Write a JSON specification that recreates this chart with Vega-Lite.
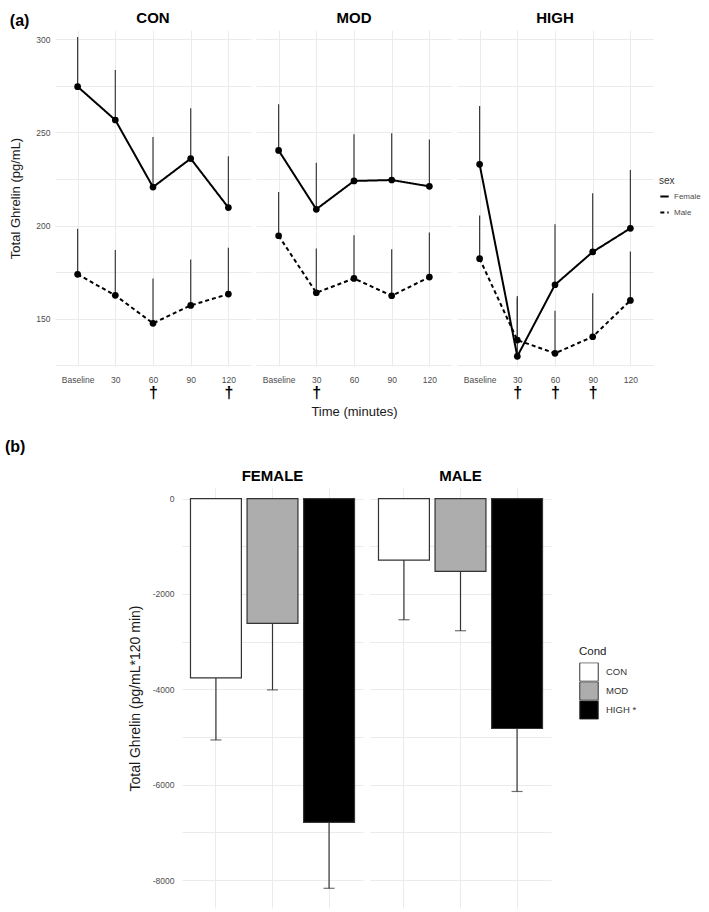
{
  "$schema": "https://vega.github.io/schema/vega-lite/v6.json",
  "background": "white",
  "padding": {"left": 5, "right": 5, "top": 11, "bottom": 5},
  "config": {
    "font": "Liberation Sans",
    "view": {"stroke": null},
    "axis": {
      "labelColor": "#4d4d4d",
      "labelFontSize": 8.5,
      "gridColor": "#ebebeb",
      "gridWidth": 1,
      "domain": false,
      "ticks": false,
      "titleFontWeight": "normal",
      "titleFontSize": 13,
      "titleColor": "#1a1a1a"
    },
    "title": {"fontSize": 15, "fontWeight": "bold", "color": "#000000", "offset": 4}
  },
  "datasets": {
    "timecourse": [
      {"cond": "CON", "sex": "Female", "time": "Baseline", "mean": 274.6, "upper": 301.2},
      {"cond": "CON", "sex": "Female", "time": "30", "mean": 256.7, "upper": 283.5},
      {"cond": "CON", "sex": "Female", "time": "60", "mean": 220.7, "upper": 247.6},
      {"cond": "CON", "sex": "Female", "time": "90", "mean": 236.0, "upper": 263.0},
      {"cond": "CON", "sex": "Female", "time": "120", "mean": 209.7, "upper": 237.2},
      {"cond": "CON", "sex": "Male", "time": "Baseline", "mean": 173.9, "upper": 198.4},
      {"cond": "CON", "sex": "Male", "time": "30", "mean": 162.6, "upper": 186.9},
      {"cond": "CON", "sex": "Male", "time": "60", "mean": 147.6, "upper": 171.7},
      {"cond": "CON", "sex": "Male", "time": "90", "mean": 157.2, "upper": 181.9},
      {"cond": "CON", "sex": "Male", "time": "120", "mean": 163.3, "upper": 188.2},
      {"cond": "MOD", "sex": "Female", "time": "Baseline", "mean": 240.4, "upper": 265.1},
      {"cond": "MOD", "sex": "Female", "time": "30", "mean": 208.8, "upper": 233.8},
      {"cond": "MOD", "sex": "Female", "time": "60", "mean": 224.0, "upper": 249.0},
      {"cond": "MOD", "sex": "Female", "time": "90", "mean": 224.5, "upper": 249.6},
      {"cond": "MOD", "sex": "Female", "time": "120", "mean": 221.1, "upper": 246.2},
      {"cond": "MOD", "sex": "Male", "time": "Baseline", "mean": 194.6, "upper": 218.1},
      {"cond": "MOD", "sex": "Male", "time": "30", "mean": 164.0, "upper": 187.7},
      {"cond": "MOD", "sex": "Male", "time": "60", "mean": 171.7, "upper": 194.8},
      {"cond": "MOD", "sex": "Male", "time": "90", "mean": 162.4, "upper": 187.3},
      {"cond": "MOD", "sex": "Male", "time": "120", "mean": 172.4, "upper": 196.3},
      {"cond": "HIGH", "sex": "Female", "time": "Baseline", "mean": 232.9, "upper": 264.2},
      {"cond": "HIGH", "sex": "Female", "time": "30", "mean": 129.9, "upper": 162.2},
      {"cond": "HIGH", "sex": "Female", "time": "60", "mean": 168.3, "upper": 200.7},
      {"cond": "HIGH", "sex": "Female", "time": "90", "mean": 185.9, "upper": 217.4},
      {"cond": "HIGH", "sex": "Female", "time": "120", "mean": 198.6, "upper": 229.9},
      {"cond": "HIGH", "sex": "Male", "time": "Baseline", "mean": 182.3, "upper": 205.5},
      {"cond": "HIGH", "sex": "Male", "time": "30", "mean": 138.6, "upper": 161.0},
      {"cond": "HIGH", "sex": "Male", "time": "60", "mean": 131.5, "upper": 154.3},
      {"cond": "HIGH", "sex": "Male", "time": "90", "mean": 140.4, "upper": 163.7},
      {"cond": "HIGH", "sex": "Male", "time": "120", "mean": 159.9, "upper": 186.1}
    ],
    "auc": [
      {"sex": "FEMALE", "cond": "CON", "auc": -3760, "lower": -5060},
      {"sex": "FEMALE", "cond": "MOD", "auc": -2615, "lower": -4010},
      {"sex": "FEMALE", "cond": "HIGH", "auc": -6790, "lower": -8170},
      {"sex": "MALE", "cond": "CON", "auc": -1290, "lower": -2540},
      {"sex": "MALE", "cond": "MOD", "auc": -1525, "lower": -2770},
      {"sex": "MALE", "cond": "HIGH", "auc": -4820, "lower": -6140}
    ]
  },
  "spacing": 21,
  "vconcat": [
    {
      "title": {"text": "(a)", "anchor": "start", "fontSize": 16, "dy": 22},
      "spacing": 5,
      "hconcat": [
        {
          "width": 196, "height": 336,
          "title": "CON",
          "data": {"name": "timecourse"},
          "transform": [{"filter": "datum.cond === 'CON'"}],
          "layer": [
            {
              "mark": {"type": "rule", "color": "#3a3a3a", "strokeWidth": 1.2},
              "encoding": {
                "x": {"field": "time", "type": "ordinal", "scale": {"type": "point", "domain": ["Baseline", "30", "60", "90", "120"], "padding": 0.6},
                      "axis": {"orient": "bottom", "title": null, "grid": false, "labelAngle": 0, "labelPadding": 18, "labelFontSize": 16, "labelFontWeight": "bold", "labelColor": "#000000",
                               "labelExpr": "datum.value === '60' || datum.value === '120' ? '†' : ''"}},
                "y": {"field": "mean", "type": "quantitative", "scale": {"domain": [124.7, 305], "nice": false, "zero": false},
                      "axis": {"title": "Total Ghrelin (pg/mL)", "values": [125, 150, 175, 200, 225, 250, 275, 300], "labelPadding": 5, "titlePadding": 13,
                               "labelExpr": "datum.value % 50 === 0 ? datum.label : ''"}},
                "y2": {"field": "upper"},
                "detail": {"field": "sex"}
              }
            },
            {
              "mark": {"type": "line", "color": "#000000", "strokeWidth": 2},
              "encoding": {
                "x": {"field": "time", "type": "ordinal", "axis": {"orient": "bottom", "title": null, "labelAngle": 0, "labelPadding": 9, "grid": true}},
                "y": {"field": "mean", "type": "quantitative"},
                "strokeDash": {"field": "sex", "type": "nominal", "scale": {"domain": ["Female", "Male"], "range": [[1, 0], [4, 3]]},
                               "legend": {"title": "sex", "orient": "none", "legendX": 604, "legendY": 146, "symbolType": "stroke", "symbolSize": 70,
                                          "symbolStrokeWidth": 2, "symbolStrokeColor": "#000000", "labelFontSize": 8, "labelColor": "#4d4d4d",
                                          "titleFontSize": 10, "titleFontWeight": "normal", "titleColor": "#333333", "rowPadding": 6}}
              }
            },
            {
              "mark": {"type": "point", "filled": true, "color": "#000000", "size": 45, "opacity": 1},
              "encoding": {
                "x": {"field": "time", "type": "ordinal", "axis": null},
                "y": {"field": "mean", "type": "quantitative"}
              }
            }
          ],
          "resolve": {"axis": {"x": "independent"}}
        },
        {
          "width": 196, "height": 336,
          "title": "MOD",
          "data": {"name": "timecourse"},
          "transform": [{"filter": "datum.cond === 'MOD'"}],
          "layer": [
            {
              "mark": {"type": "rule", "color": "#3a3a3a", "strokeWidth": 1.2},
              "encoding": {
                "x": {"field": "time", "type": "ordinal", "scale": {"type": "point", "domain": ["Baseline", "30", "60", "90", "120"], "padding": 0.6},
                      "axis": {"orient": "bottom", "title": "Time (minutes)", "titlePadding": 5, "grid": false, "labelAngle": 0, "labelPadding": 18, "labelFontSize": 16, "labelFontWeight": "bold", "labelColor": "#000000",
                               "labelExpr": "datum.value === '30' ? '†' : ''"}},
                "y": {"field": "mean", "type": "quantitative", "scale": {"domain": [124.7, 305], "nice": false, "zero": false},
                      "axis": {"title": null, "labels": false, "values": [125, 150, 175, 200, 225, 250, 275, 300]}},
                "y2": {"field": "upper"},
                "detail": {"field": "sex"}
              }
            },
            {
              "mark": {"type": "line", "color": "#000000", "strokeWidth": 2},
              "encoding": {
                "x": {"field": "time", "type": "ordinal", "axis": {"orient": "bottom", "title": null, "labelAngle": 0, "labelPadding": 9, "grid": true}},
                "y": {"field": "mean", "type": "quantitative"},
                "strokeDash": {"field": "sex", "type": "nominal", "scale": {"domain": ["Female", "Male"], "range": [[1, 0], [4, 3]]},
                               "legend": {"title": "sex", "orient": "none", "legendX": 604, "legendY": 146, "symbolType": "stroke", "symbolSize": 70,
                                          "symbolStrokeWidth": 2, "symbolStrokeColor": "#000000", "labelFontSize": 8, "labelColor": "#4d4d4d",
                                          "titleFontSize": 10, "titleFontWeight": "normal", "titleColor": "#333333", "rowPadding": 6}}
              }
            },
            {
              "mark": {"type": "point", "filled": true, "color": "#000000", "size": 45, "opacity": 1},
              "encoding": {
                "x": {"field": "time", "type": "ordinal", "axis": null},
                "y": {"field": "mean", "type": "quantitative"}
              }
            }
          ],
          "resolve": {"axis": {"x": "independent"}}
        },
        {
          "width": 196, "height": 336,
          "title": "HIGH",
          "data": {"name": "timecourse"},
          "transform": [{"filter": "datum.cond === 'HIGH'"}],
          "layer": [
            {
              "mark": {"type": "rule", "color": "#3a3a3a", "strokeWidth": 1.2},
              "encoding": {
                "x": {"field": "time", "type": "ordinal", "scale": {"type": "point", "domain": ["Baseline", "30", "60", "90", "120"], "padding": 0.6},
                      "axis": {"orient": "bottom", "title": null, "grid": false, "labelAngle": 0, "labelPadding": 18, "labelFontSize": 16, "labelFontWeight": "bold", "labelColor": "#000000",
                               "labelExpr": "datum.value === '30' || datum.value === '60' || datum.value === '90' ? '†' : ''"}},
                "y": {"field": "mean", "type": "quantitative", "scale": {"domain": [124.7, 305], "nice": false, "zero": false},
                      "axis": {"title": null, "labels": false, "values": [125, 150, 175, 200, 225, 250, 275, 300]}},
                "y2": {"field": "upper"},
                "detail": {"field": "sex"}
              }
            },
            {
              "mark": {"type": "line", "color": "#000000", "strokeWidth": 2},
              "encoding": {
                "x": {"field": "time", "type": "ordinal", "axis": {"orient": "bottom", "title": null, "labelAngle": 0, "labelPadding": 9, "grid": true}},
                "y": {"field": "mean", "type": "quantitative"},
                "strokeDash": {"field": "sex", "type": "nominal", "scale": {"domain": ["Female", "Male"], "range": [[1, 0], [4, 3]]},
                               "legend": {"title": "sex", "orient": "none", "legendX": 604, "legendY": 146, "symbolType": "stroke", "symbolSize": 70,
                                          "symbolStrokeWidth": 2, "symbolStrokeColor": "#000000", "labelFontSize": 8, "labelColor": "#4d4d4d",
                                          "titleFontSize": 10, "titleFontWeight": "normal", "titleColor": "#333333", "rowPadding": 6}}
              }
            },
            {
              "mark": {"type": "point", "filled": true, "color": "#000000", "size": 45, "opacity": 1},
              "encoding": {
                "x": {"field": "time", "type": "ordinal", "axis": null},
                "y": {"field": "mean", "type": "quantitative"}
              }
            }
          ],
          "resolve": {"axis": {"x": "independent"}}
        }
      ]
    },
    {
      "spacing": 7,
      "hconcat": [
        {
          "width": 66, "height": 420,
          "title": {"text": "(b)", "anchor": "start", "fontSize": 16, "dx": -50, "offset": 33},
          "data": {"values": [{}]},
          "mark": {"type": "text", "text": ""}
        },
        {
          "width": 181, "height": 420,
          "title": "FEMALE",
          "data": {"name": "auc"},
          "transform": [{"filter": "datum.sex === 'FEMALE'"}],
          "encoding": {
            "x": {"field": "cond", "type": "nominal", "scale": {"domain": ["CON", "MOD", "HIGH"], "paddingInner": 0.1, "paddingOuter": 0.15},
                  "axis": {"title": null, "labels": false, "grid": true}}
          },
          "layer": [
            {
              "mark": {"type": "bar", "stroke": "#333333", "strokeWidth": 1.2},
              "encoding": {
                "y": {"field": "auc", "type": "quantitative", "scale": {"domain": [-8583, 222], "nice": false},
                      "axis": {"title": "Total Ghrelin (pg/mL*120 min)", "titleFontSize": 14, "values": [-8000, -7000, -6000, -5000, -4000, -3000, -2000, -1000, 0],
                               "labelExpr": "datum.value % 2000 === 0 ? '' + datum.value : ''", "labelPadding": 8, "titlePadding": 10}},
                "fill": {"field": "cond", "type": "nominal", "scale": {"domain": ["CON", "MOD", "HIGH"], "range": ["#ffffff", "#adadad", "#000000"]},
                         "legend": {"title": "Cond", "orient": "none", "legendX": 524, "legendY": 616, "symbolType": "square", "symbolSize": 340,
                                    "symbolStrokeColor": "#333333", "symbolStrokeWidth": 1, "rowPadding": 0, "clipHeight": 19, "labelOffset": 7,
                                    "labelFontSize": 9.5, "labelColor": "#333333", "titleFontSize": 11.5, "titleFontWeight": "normal", "titleColor": "#222222",
                                    "labelExpr": "datum.label === 'HIGH' ? 'HIGH *' : datum.label"}}
              }
            },
            {
              "mark": {"type": "rule", "color": "#333333", "strokeWidth": 1.2},
              "encoding": {"y": {"field": "auc", "type": "quantitative"}, "y2": {"field": "lower"}}
            },
            {
              "mark": {"type": "tick", "color": "#333333", "thickness": 1.2, "size": 11},
              "encoding": {"y": {"field": "lower", "type": "quantitative"}}
            }
          ]
        },
        {
          "width": 181, "height": 420,
          "title": "MALE",
          "data": {"name": "auc"},
          "transform": [{"filter": "datum.sex === 'MALE'"}],
          "encoding": {
            "x": {"field": "cond", "type": "nominal", "scale": {"domain": ["CON", "MOD", "HIGH"], "paddingInner": 0.1, "paddingOuter": 0.15},
                  "axis": {"title": null, "labels": false, "grid": true}}
          },
          "layer": [
            {
              "mark": {"type": "bar", "stroke": "#333333", "strokeWidth": 1.2},
              "encoding": {
                "y": {"field": "auc", "type": "quantitative", "scale": {"domain": [-8583, 222], "nice": false},
                      "axis": {"title": null, "labels": false, "values": [-8000, -7000, -6000, -5000, -4000, -3000, -2000, -1000, 0]}},
                "fill": {"field": "cond", "type": "nominal", "scale": {"domain": ["CON", "MOD", "HIGH"], "range": ["#ffffff", "#adadad", "#000000"]},
                         "legend": {"title": "Cond", "orient": "none", "legendX": 524, "legendY": 616, "symbolType": "square", "symbolSize": 340,
                                    "symbolStrokeColor": "#333333", "symbolStrokeWidth": 1, "rowPadding": 0, "clipHeight": 19, "labelOffset": 7,
                                    "labelFontSize": 9.5, "labelColor": "#333333", "titleFontSize": 11.5, "titleFontWeight": "normal", "titleColor": "#222222",
                                    "labelExpr": "datum.label === 'HIGH' ? 'HIGH *' : datum.label"}}
              }
            },
            {
              "mark": {"type": "rule", "color": "#333333", "strokeWidth": 1.2},
              "encoding": {"y": {"field": "auc", "type": "quantitative"}, "y2": {"field": "lower"}}
            },
            {
              "mark": {"type": "tick", "color": "#333333", "thickness": 1.2, "size": 11},
              "encoding": {"y": {"field": "lower", "type": "quantitative"}}
            }
          ]
        }
      ]
    }
  ]
}
